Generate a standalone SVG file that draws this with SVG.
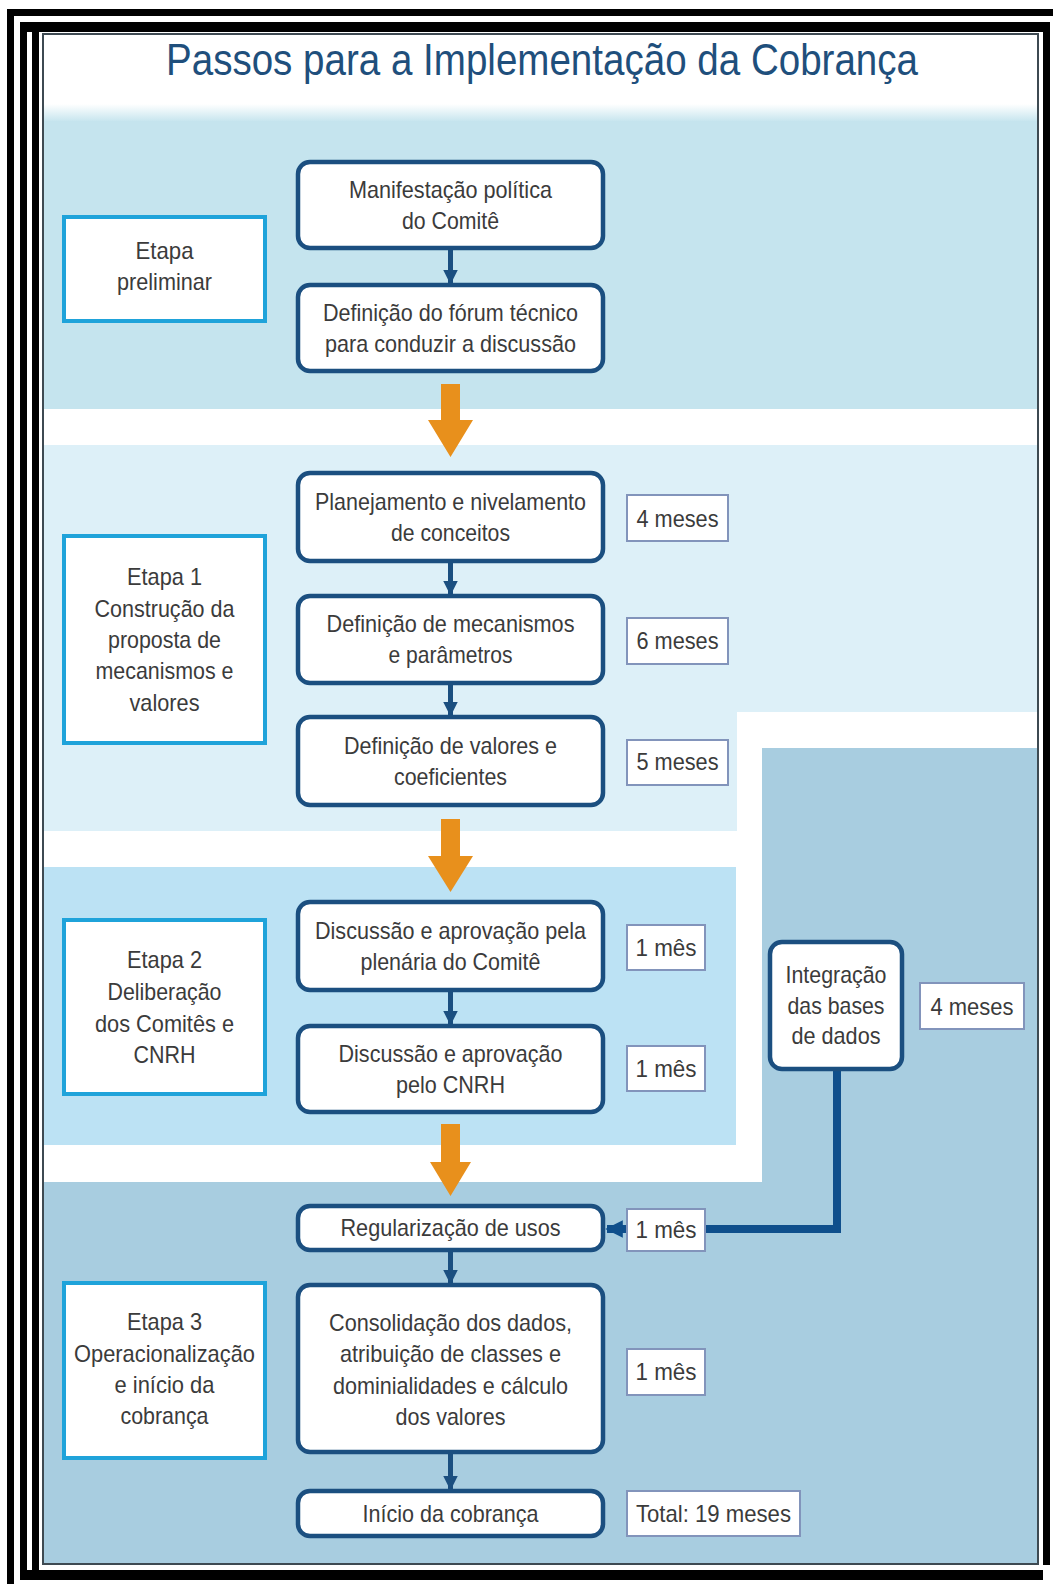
<svg xmlns="http://www.w3.org/2000/svg" width="1053" height="1584" viewBox="0 0 1053 1584">
<defs>
<style>
.t{font-family:"Liberation Sans",Arial,sans-serif;font-size:24px;fill:#3b3b3b;text-anchor:middle}
.box{fill:#fff;stroke:#1b4f80;stroke-width:4.5}
.etapa{fill:#fff;stroke:#1fa3da;stroke-width:4}
.dur{fill:#fff;stroke:#8294bb;stroke-width:2}
.blk{fill:#000}
.orange{fill:#e8901c}
.link{fill:none;stroke:#1b4f80;stroke-width:5}
</style>
<marker id="ah" viewBox="0 0 10 10" refX="9" refY="5" markerWidth="3" markerHeight="3" orient="auto" markerUnits="strokeWidth">
<path d="M0,0 L10,5 L0,10 z" fill="#1b4f80"/>
</marker>
<marker id="ah2" viewBox="0 0 10 10" refX="9" refY="5" markerWidth="2.2" markerHeight="2.2" orient="auto" markerUnits="strokeWidth">
<path d="M0,0 L10,5 L0,10 z" fill="#0f4f8c"/>
</marker>
<linearGradient id="tg" x1="0" y1="0" x2="0" y2="1">
<stop offset="0" stop-color="#ffffff"/>
<stop offset="1" stop-color="#c5e4ee"/>
</linearGradient>
</defs>

<!-- frame -->
<rect x="0" y="0" width="1053" height="1584" fill="#fff"/>
<rect class="blk" x="7" y="9" width="7" height="1575"/>
<rect class="blk" x="7" y="9" width="1046" height="7"/>
<rect class="blk" x="20" y="22" width="1030" height="10"/>
<rect class="blk" x="20" y="22" width="7" height="1558"/>
<rect class="blk" x="32" y="30" width="7" height="1540"/>
<rect class="blk" x="1043" y="22" width="7" height="1543"/>
<rect class="blk" x="20" y="1570" width="1023" height="10"/>
<rect x="43" y="34" width="995" height="1530" fill="#fff" stroke="#3e4a52" stroke-width="2"/>

<!-- bands -->
<rect x="44" y="104" width="993" height="18" fill="url(#tg)"/>
<rect x="44" y="121" width="993" height="288" fill="#c5e4ee"/>
<path d="M44,445 H1037 V712 H737 V831 H44 Z" fill="#ddf0f8"/>
<rect x="44" y="867" width="692" height="278" fill="#bce2f4"/>
<path d="M762,748 H1037 V1563 H44 V1182 H762 Z" fill="#a8cde0"/>

<!-- title -->
<text x="542" y="75" font-family="'Liberation Sans',Arial,sans-serif" font-size="45" fill="#1f4f7c" text-anchor="middle" textLength="752" lengthAdjust="spacingAndGlyphs">Passos para a Implementação da Cobrança</text>

<!-- connectors -->
<g id="connectors">
<line class="link" x1="450.5" y1="249" x2="450.5" y2="283" marker-end="url(#ah)"/>
<line class="link" x1="450.5" y1="562" x2="450.5" y2="594" marker-end="url(#ah)"/>
<line class="link" x1="450.5" y1="684" x2="450.5" y2="715" marker-end="url(#ah)"/>
<line class="link" x1="450.5" y1="991" x2="450.5" y2="1024" marker-end="url(#ah)"/>
<line class="link" x1="450.5" y1="1251" x2="450.5" y2="1283" marker-end="url(#ah)"/>
<line class="link" x1="450.5" y1="1453" x2="450.5" y2="1489" marker-end="url(#ah)"/>
<path d="M441,384 H460 V420 H473 L450.5,457 L428,420 H441 Z" class="orange"/>
<path d="M441,819 H460 V856 H473 L450.5,892 L428,856 H441 Z" class="orange"/>
<path d="M441,1124 H460 V1162 H471 L450.5,1196 L430,1162 H441 Z" class="orange"/>
<path d="M837,1069 V1229 H607" fill="none" stroke="#0f4f8c" stroke-width="8" marker-end="url(#ah2)"/>
</g>

<!-- main column -->
<g id="n1"><rect class="box" x="298" y="162" width="305" height="86" rx="12"/>
<text class="t" x="450.5" y="198" textLength="203" lengthAdjust="spacingAndGlyphs">Manifestação política</text>
<text class="t" x="450.5" y="229" textLength="97" lengthAdjust="spacingAndGlyphs">do Comitê</text></g>

<g id="n2"><rect class="box" x="298" y="285" width="305" height="86" rx="12"/>
<text class="t" x="450.5" y="321" textLength="255" lengthAdjust="spacingAndGlyphs">Definição do fórum técnico</text>
<text class="t" x="450.5" y="352" textLength="251" lengthAdjust="spacingAndGlyphs">para conduzir a discussão</text></g>

<g id="n3"><rect class="box" x="298" y="473" width="305" height="88" rx="12"/>
<text class="t" x="450.5" y="510" textLength="271" lengthAdjust="spacingAndGlyphs">Planejamento e nivelamento</text>
<text class="t" x="450.5" y="541" textLength="119" lengthAdjust="spacingAndGlyphs">de conceitos</text></g>

<g id="n4"><rect class="box" x="298" y="596" width="305" height="87" rx="12"/>
<text class="t" x="450.5" y="632" textLength="248" lengthAdjust="spacingAndGlyphs">Definição de mecanismos</text>
<text class="t" x="450.5" y="663" textLength="124" lengthAdjust="spacingAndGlyphs">e parâmetros</text></g>

<g id="n5"><rect class="box" x="298" y="717" width="305" height="88" rx="12"/>
<text class="t" x="450.5" y="754" textLength="213" lengthAdjust="spacingAndGlyphs">Definição de valores e</text>
<text class="t" x="450.5" y="785" textLength="113" lengthAdjust="spacingAndGlyphs">coeficientes</text></g>

<g id="n6"><rect class="box" x="298" y="902" width="305" height="88" rx="12"/>
<text class="t" x="450.5" y="939" textLength="271" lengthAdjust="spacingAndGlyphs">Discussão e aprovação pela</text>
<text class="t" x="450.5" y="970" textLength="180" lengthAdjust="spacingAndGlyphs">plenária do Comitê</text></g>

<g id="n7"><rect class="box" x="298" y="1026" width="305" height="86" rx="12"/>
<text class="t" x="450.5" y="1062" textLength="224" lengthAdjust="spacingAndGlyphs">Discussão e aprovação</text>
<text class="t" x="450.5" y="1093" textLength="109" lengthAdjust="spacingAndGlyphs">pelo CNRH</text></g>

<g id="n8"><rect class="box" x="298" y="1206" width="305" height="44" rx="12"/>
<text class="t" x="450.5" y="1236" textLength="220" lengthAdjust="spacingAndGlyphs">Regularização de usos</text></g>

<g id="n9"><rect class="box" x="298" y="1285" width="305" height="167" rx="12"/>
<text class="t" x="450.5" y="1331" textLength="243" lengthAdjust="spacingAndGlyphs">Consolidação dos dados,</text>
<text class="t" x="450.5" y="1362" textLength="221" lengthAdjust="spacingAndGlyphs">atribuição de classes e</text>
<text class="t" x="450.5" y="1394" textLength="235" lengthAdjust="spacingAndGlyphs">dominialidades e cálculo</text>
<text class="t" x="450.5" y="1425" textLength="110" lengthAdjust="spacingAndGlyphs">dos valores</text></g>

<g id="n10"><rect class="box" x="298" y="1491" width="305" height="45" rx="12"/>
<text class="t" x="450.5" y="1522" textLength="176" lengthAdjust="spacingAndGlyphs">Início da cobrança</text></g>

<!-- etapas -->
<g id="e0"><rect class="etapa" x="64" y="217" width="201" height="104"/>
<text class="t" x="164.5" y="259" textLength="58" lengthAdjust="spacingAndGlyphs">Etapa</text>
<text class="t" x="164.5" y="290" textLength="95" lengthAdjust="spacingAndGlyphs">preliminar</text></g>

<g id="e1"><rect class="etapa" x="64" y="536" width="201" height="207"/>
<text class="t" x="164.5" y="585" textLength="75" lengthAdjust="spacingAndGlyphs">Etapa 1</text>
<text class="t" x="164.5" y="617" textLength="140" lengthAdjust="spacingAndGlyphs">Construção da</text>
<text class="t" x="164.5" y="648" textLength="113" lengthAdjust="spacingAndGlyphs">proposta de</text>
<text class="t" x="164.5" y="679" textLength="138" lengthAdjust="spacingAndGlyphs">mecanismos e</text>
<text class="t" x="164.5" y="711" textLength="70" lengthAdjust="spacingAndGlyphs">valores</text></g>

<g id="e2"><rect class="etapa" x="64" y="920" width="201" height="174"/>
<text class="t" x="164.5" y="968" textLength="75" lengthAdjust="spacingAndGlyphs">Etapa 2</text>
<text class="t" x="164.5" y="1000" textLength="114" lengthAdjust="spacingAndGlyphs">Deliberação</text>
<text class="t" x="164.5" y="1032" textLength="139" lengthAdjust="spacingAndGlyphs">dos Comitês e</text>
<text class="t" x="164.5" y="1063" textLength="62" lengthAdjust="spacingAndGlyphs">CNRH</text></g>

<g id="e3"><rect class="etapa" x="64" y="1283" width="201" height="175"/>
<text class="t" x="164.5" y="1330" textLength="75" lengthAdjust="spacingAndGlyphs">Etapa 3</text>
<text class="t" x="164.5" y="1362" textLength="181" lengthAdjust="spacingAndGlyphs">Operacionalização</text>
<text class="t" x="164.5" y="1393" textLength="100" lengthAdjust="spacingAndGlyphs">e início da</text>
<text class="t" x="164.5" y="1424" textLength="88" lengthAdjust="spacingAndGlyphs">cobrança</text></g>

<!-- integration -->
<g id="int"><rect class="box" x="770" y="942" width="132" height="127" rx="12"/>
<text class="t" x="836" y="983" textLength="101" lengthAdjust="spacingAndGlyphs">Integração</text>
<text class="t" x="836" y="1014" textLength="97" lengthAdjust="spacingAndGlyphs">das bases</text>
<text class="t" x="836" y="1044" textLength="89" lengthAdjust="spacingAndGlyphs">de dados</text></g>

<!-- durations -->
<g id="d1"><rect class="dur" x="627" y="495" width="101" height="46"/><text class="t" x="677.5" y="527" textLength="82" lengthAdjust="spacingAndGlyphs">4 meses</text></g>
<g id="d2"><rect class="dur" x="627" y="618" width="101" height="46"/><text class="t" x="677.5" y="649" textLength="82" lengthAdjust="spacingAndGlyphs">6 meses</text></g>
<g id="d3"><rect class="dur" x="627" y="740" width="101" height="45"/><text class="t" x="677.5" y="770" textLength="82" lengthAdjust="spacingAndGlyphs">5 meses</text></g>
<g id="d4"><rect class="dur" x="627" y="925" width="78" height="45"/><text class="t" x="666" y="956" textLength="61" lengthAdjust="spacingAndGlyphs">1 mês</text></g>
<g id="d5"><rect class="dur" x="627" y="1046" width="78" height="45"/><text class="t" x="666" y="1077" textLength="61" lengthAdjust="spacingAndGlyphs">1 mês</text></g>
<g id="d6"><rect class="dur" x="627" y="1209" width="78" height="42"/><text class="t" x="666" y="1238" textLength="61" lengthAdjust="spacingAndGlyphs">1 mês</text></g>
<g id="d7"><rect class="dur" x="627" y="1349" width="78" height="46"/><text class="t" x="666" y="1380" textLength="61" lengthAdjust="spacingAndGlyphs">1 mês</text></g>
<g id="d8"><rect class="dur" x="627" y="1491" width="173" height="45"/><text class="t" x="713.5" y="1522" textLength="155" lengthAdjust="spacingAndGlyphs">Total: 19 meses</text></g>
<g id="d9"><rect class="dur" x="920" y="983" width="104" height="46"/><text class="t" x="972" y="1015" textLength="83" lengthAdjust="spacingAndGlyphs">4 meses</text></g>
</svg>
